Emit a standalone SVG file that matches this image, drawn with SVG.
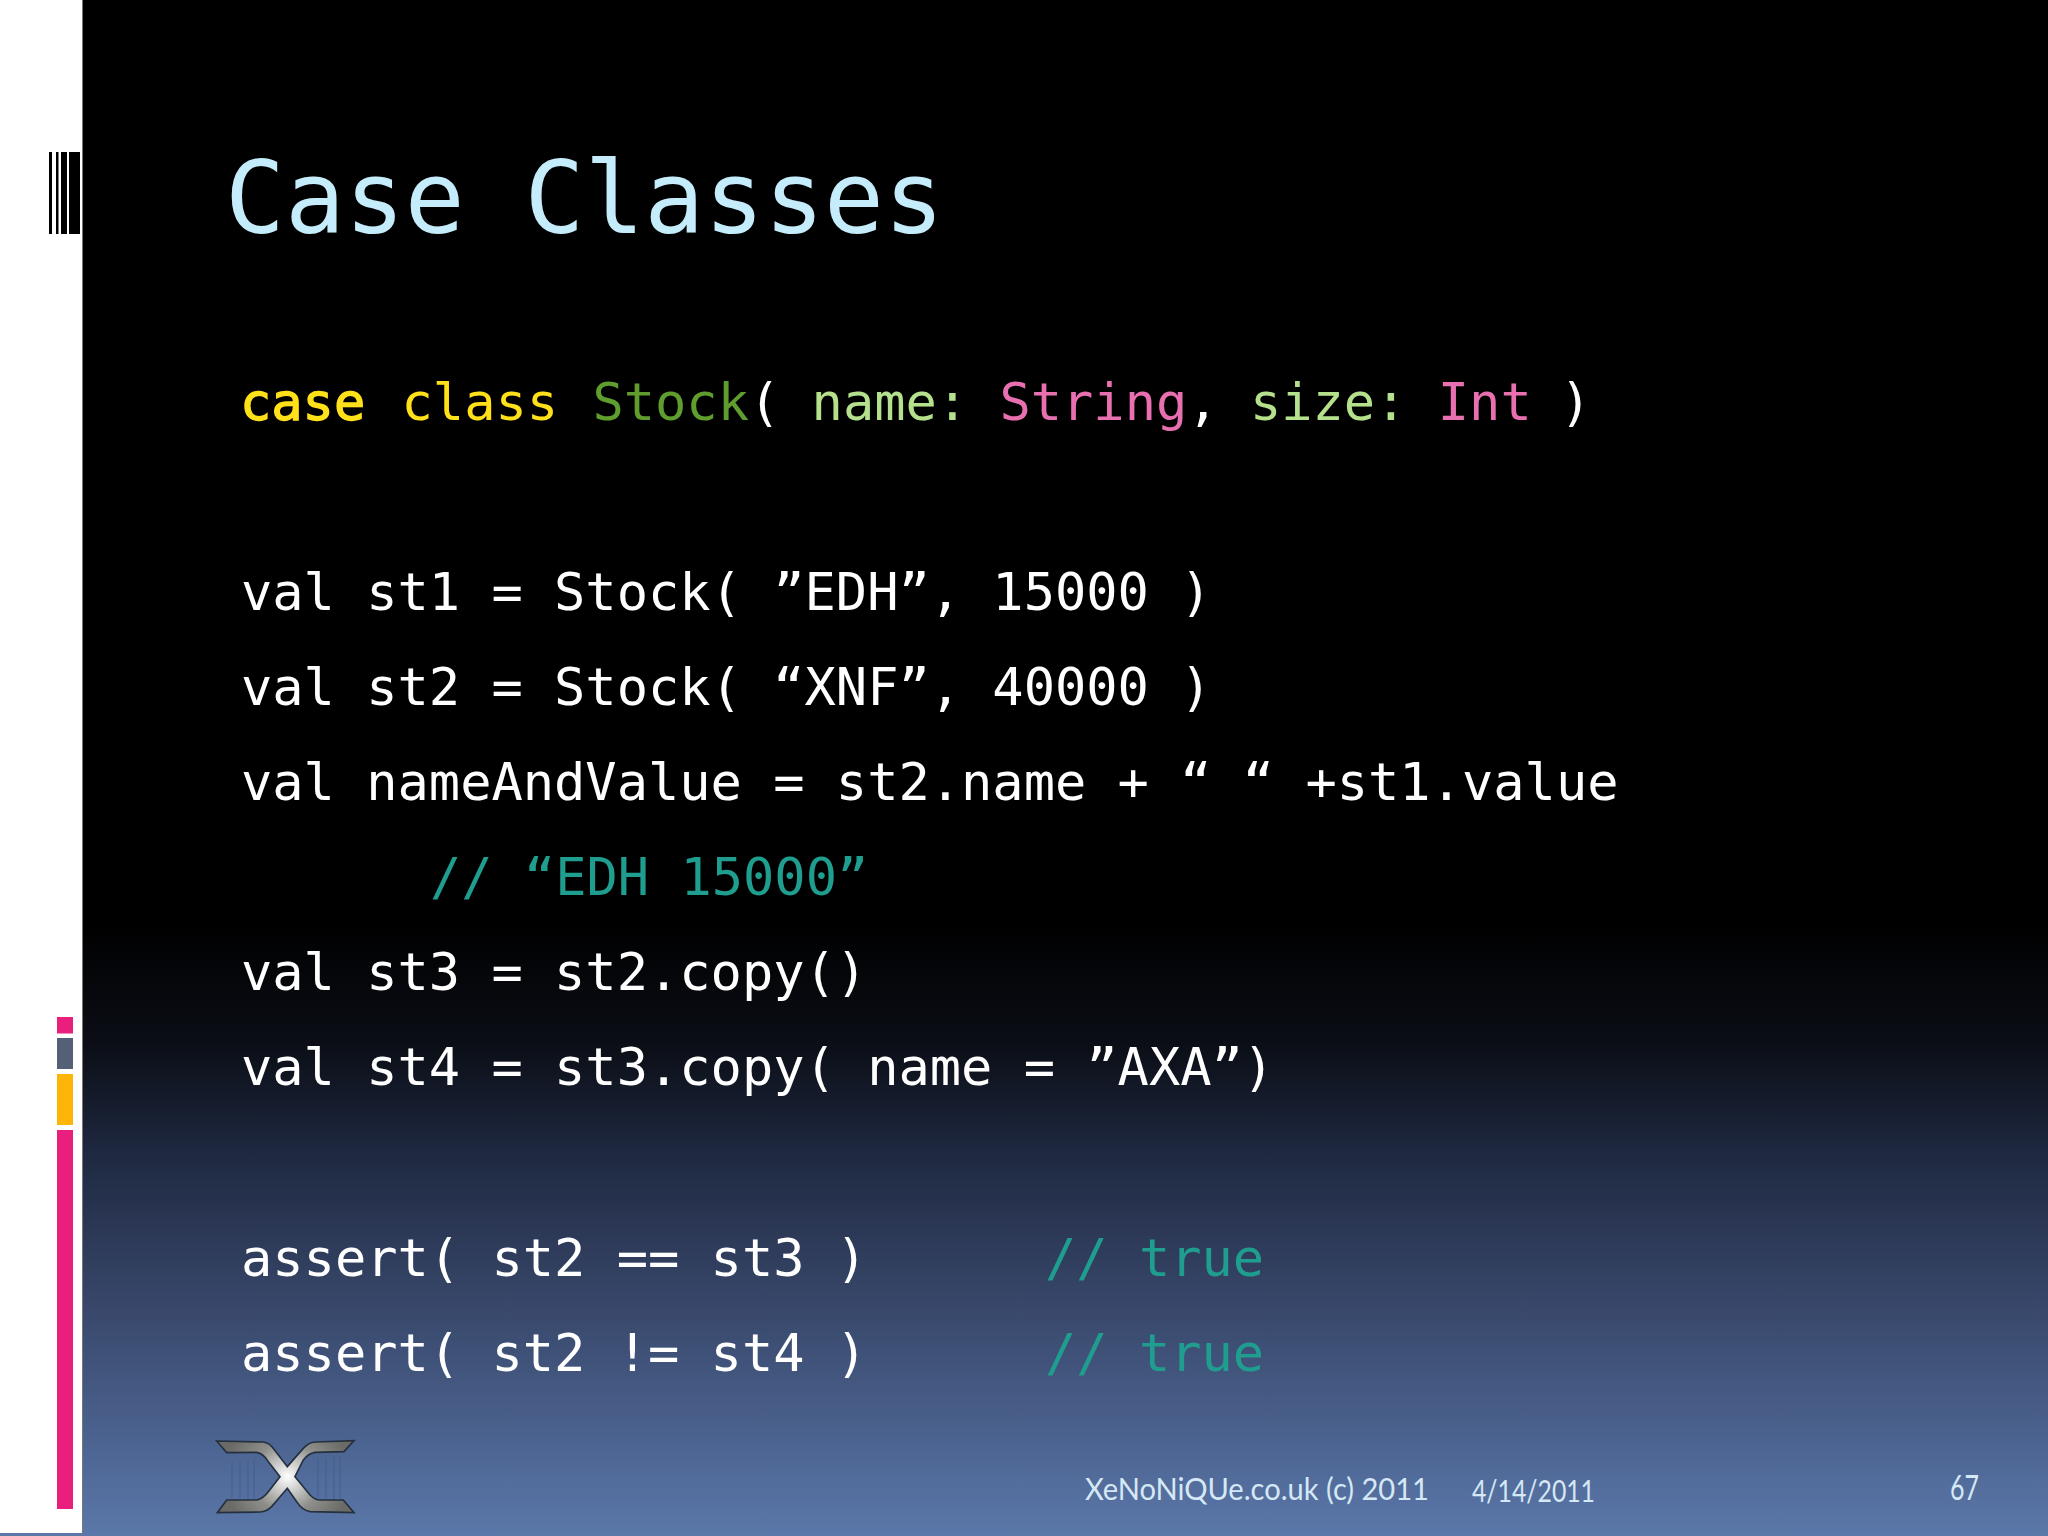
<svg xmlns="http://www.w3.org/2000/svg" width="2048" height="1536" viewBox="0 0 2048 1536">
<style>
.c{font-family:"DejaVu Sans Mono","Liberation Mono",monospace;font-size:52px;fill:#fff;white-space:pre}
.k{fill:#ffe11a}.b{stroke:#ffe11a;stroke-width:1.3px}.t{fill:#5f9e2e}.n{fill:#b5e08c}.s{fill:#e86fb0}.m{fill:#1f9e8f}
.f{font-family:"Lato","Open Sans",sans-serif;font-size:31px;font-weight:400;fill:#d5e8f5}
</style>
<defs>
<linearGradient id="bg" x1="0" y1="0" x2="0" y2="1">
<stop offset="0" stop-color="#000"/><stop offset=".6" stop-color="#000"/><stop offset=".68" stop-color="#0b0e16"/><stop offset=".75" stop-color="#1e2840"/><stop offset=".85" stop-color="#38476a"/><stop offset=".94" stop-color="#4c6491"/><stop offset="1" stop-color="#5b78aa"/>
</linearGradient>
<radialGradient id="lg" gradientUnits="userSpaceOnUse" cx="262" cy="170" r="190">
<stop offset="0" stop-color="#fff"/><stop offset=".15" stop-color="#e0e0e0"/><stop offset=".55" stop-color="#8e8e8a"/><stop offset="1" stop-color="#6a6a66"/>
</radialGradient>
</defs>
<rect width="2048" height="1536" fill="url(#bg)"/>
<g id="sidebar">
<rect width="82" height="1533" fill="#fff"/>
<rect x="82" width="1" height="1536" fill="#777"/>
<g fill="#000"><rect x="49" y="152" width="3" height="82"/><rect x="56" y="152" width="2.500" height="82"/><rect x="61" y="152" width="6" height="82"/><rect x="69" y="152" width="11" height="82"/></g>
<rect x="57" y="1017" width="16" height="16.500" fill="#e91e7d"/>
<rect x="57" y="1038" width="16" height="31" fill="#545f78"/>
<rect x="57" y="1074" width="16" height="51" fill="#ffb508"/>
<rect x="57" y="1130" width="16" height="379" fill="#e91e7d"/>
</g>
<g id="title"><text x="225" y="233" font-family="DejaVu Sans Mono,monospace" font-size="99.500" fill="#c5ecfb">Case Classes</text></g>
<g id="code">
<text class="c" x="240" y="420"><tspan class="k b">case</tspan> <tspan class="k" dx="5">class</tspan> <tspan class="t" dx="3">Stock</tspan>( <tspan class="n">name:</tspan> <tspan class="s">String</tspan>, <tspan class="n">size:</tspan> <tspan class="s">Int</tspan> <tspan dx="-3">)</tspan></text>
<text class="c" x="241" y="610">val st1 = Stock( ”EDH”, 15000 )</text>
<text class="c" x="241" y="705">val st2 = Stock( “XNF”, 40000 )</text>
<text class="c" x="241" y="800">val nameAndValue = st2.name + “ “ +st1.value</text>
<text class="c m" x="430" y="895">// “EDH 15000”</text>
<text class="c" x="241" y="990">val st3 = st2.copy()</text>
<text class="c" x="241" y="1085">val st4 = st3.copy( name = ”AXA”)</text>
<text class="c" x="241" y="1276">assert( st2 == st3 )</text>
<text class="c m" x="1045" y="1276">// true</text>
<text class="c" x="241" y="1371">assert( st2 != st4 )</text>
<text class="c m" x="1045" y="1371">// true</text>
</g>
<g id="logo">
<g stroke="#3f5c90" stroke-width="1" opacity=".8"><path d="M232 1462V1498M240 1462V1498M248 1460V1500M254 1458V1500M318 1458V1498M326 1458V1498M334 1456V1500M340 1456V1498"/></g>
<path transform="translate(200 1420) scale(.3333)" fill="url(#lg)" stroke="#24303f" stroke-width="5" d="M50 63L190 66Q208 68 222 88L262 140L310 85Q325 68 345 66L462 62L432 95L345 97Q325 100 310 120L285 170L330 225Q345 240 360 240L430 240L462 278L330 275Q305 270 290 245L262 205L215 260Q200 275 180 276L52 278L80 240L170 240Q190 235 205 215L240 170L205 125Q190 100 170 97L80 98Z"/>
</g>
<g id="footer">
<text class="f" x="1085" y="1500" textLength="344" lengthAdjust="spacingAndGlyphs">XeNoNiQUe.co.uk (c) 2011</text>
<text class="f" x="1472" y="1502" textLength="123" lengthAdjust="spacingAndGlyphs">4/14/2011</text>
<text class="f" x="1950" y="1500" style="font-size:34px" textLength="29" lengthAdjust="spacingAndGlyphs">67</text>
</g>
</svg>
